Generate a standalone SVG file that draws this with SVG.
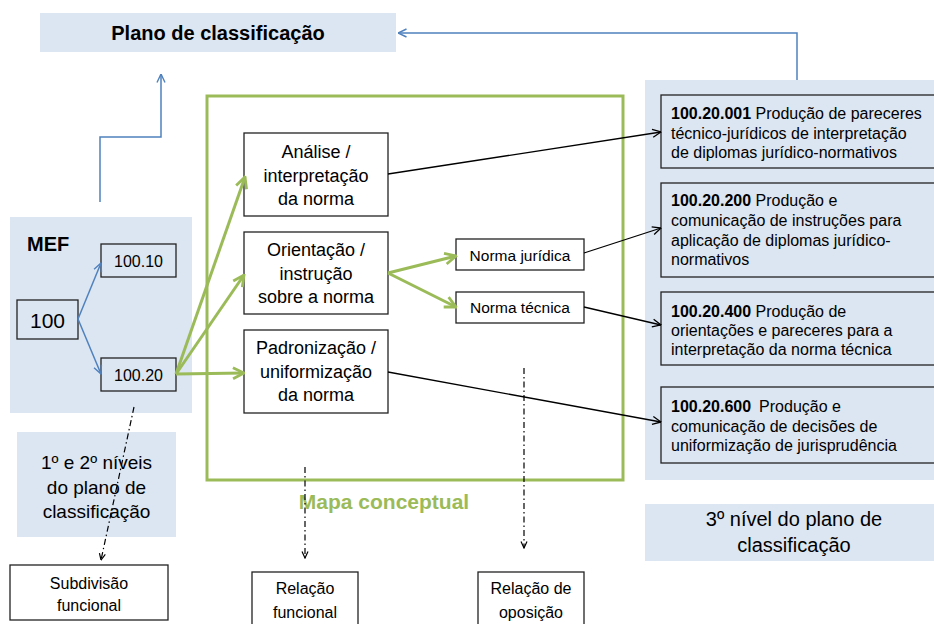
<svg xmlns="http://www.w3.org/2000/svg" width="934" height="624" viewBox="0 0 934 624">
<defs>
<style>
.t{font-family:"Liberation Sans",Arial,sans-serif;fill:#000}
.c{text-anchor:middle}
.b{font-weight:bold}
.pan{fill:#DCE6F2}
.box{fill:#fff;stroke:#222;stroke-width:1.3}
.obox{fill:none;stroke:#222;stroke-width:1.3}
.blue{fill:none;stroke:#4F81BD;stroke-width:1.5}
.green{fill:none;stroke:#9BBB59;stroke-width:3}
.blk{fill:none;stroke:#000;stroke-width:1.3}
.dd{fill:none;stroke:#000;stroke-width:1.2;stroke-dasharray:6 3 1.5 3}
</style>
<marker id="ab" viewBox="0 0 10 10" refX="9.5" refY="5" markerWidth="10" markerHeight="10" markerUnits="userSpaceOnUse" orient="auto"><path d="M1,1 L9.5,5 L1,9" fill="none" stroke="#4F81BD" stroke-width="1.4"/></marker>
<marker id="ag" viewBox="0 0 14 14" refX="12.5" refY="7" markerWidth="14" markerHeight="14" markerUnits="userSpaceOnUse" orient="auto"><path d="M1.5,1.5 L12.5,7 L1.5,12.5" fill="none" stroke="#9BBB59" stroke-width="2.8"/></marker>
<marker id="ak" viewBox="0 0 10 10" refX="9.5" refY="5" markerWidth="10" markerHeight="10" markerUnits="userSpaceOnUse" orient="auto"><path d="M1,1 L9.5,5 L1,9" fill="none" stroke="#000" stroke-width="1.3"/></marker>
<marker id="ad" viewBox="0 0 8 8" refX="7.5" refY="4" markerWidth="8" markerHeight="8" markerUnits="userSpaceOnUse" orient="auto"><path d="M1,1 L7.5,4 L1,7" fill="none" stroke="#000" stroke-width="1.2"/></marker>
</defs>
<rect x="0" y="0" width="934" height="624" fill="#fff"/>

<g id="plano">
<rect class="pan" x="40" y="13" width="356" height="39"/>
<text class="t c b" x="218" y="40" font-size="20">Plano de classificação</text>
</g>

<g id="mef">
<rect class="pan" x="10" y="217" width="182" height="196"/>
<text class="t b" x="27" y="251" font-size="20">MEF</text>
</g>
<g id="n100">
<rect class="obox" x="17" y="300" width="61" height="39"/>
<text class="t c" x="47.5" y="328" font-size="21">100</text>
</g>
<g id="n10010">
<rect class="obox" x="101" y="244" width="75" height="33"/>
<text class="t c" x="138.5" y="267" font-size="16">100.10</text>
</g>
<g id="n10020">
<rect class="obox" x="101" y="358" width="75" height="33"/>
<text class="t c" x="138.5" y="381" font-size="16">100.20</text>
</g>

<g id="niveis12">
<rect class="pan" x="17" y="432" width="159" height="105"/>
<text class="t c" x="96.5" font-size="19"><tspan x="96.5" y="469">1º e 2º níveis</tspan><tspan x="96.5" y="493.5">do plano de</tspan><tspan x="96.5" y="518">classificação</tspan></text>
</g>

<g id="mapa">
<rect class="green" x="207" y="96" width="416" height="384"/>
<text class="b" x="384" y="509" font-size="21" text-anchor="middle" font-family="Liberation Sans, Arial, sans-serif" fill="#9BBB59">Mapa conceptual</text>
</g>

<g id="analise">
<rect class="box" x="244" y="133" width="144" height="83"/>
<text class="t c" font-size="18"><tspan x="316" y="158">Análise /</tspan><tspan x="316" y="181.5">interpretação</tspan><tspan x="316" y="205">da norma</tspan></text>
</g>
<g id="orientacao">
<rect class="box" x="244" y="232" width="144" height="82"/>
<text class="t c" font-size="18"><tspan x="316" y="256">Orientação /</tspan><tspan x="316" y="279.5">instrução</tspan><tspan x="316" y="303">sobre a norma</tspan></text>
</g>
<g id="padronizacao">
<rect class="box" x="244" y="330" width="144" height="83"/>
<text class="t c" font-size="18"><tspan x="316" y="354">Padronização /</tspan><tspan x="316" y="377.5">uniformização</tspan><tspan x="316" y="401">da norma</tspan></text>
</g>
<g id="normajur">
<rect class="box" x="456" y="239" width="128" height="31"/>
<text class="t c" x="520" y="261" font-size="15.5">Norma jurídica</text>
</g>
<g id="normatec">
<rect class="box" x="456" y="292" width="128" height="31"/>
<text class="t c" x="520" y="313" font-size="15.5">Norma técnica</text>
</g>

<g id="nivel3panel">
<rect class="pan" x="645" y="80" width="295" height="400"/>
</g>
<g id="c001">
<rect class="obox" x="661" y="95" width="280" height="73"/>
<text class="t" font-size="16"><tspan x="671" y="119"><tspan class="b">100.20.001</tspan> Produção de pareceres</tspan><tspan x="671" y="138.5">técnico-jurídicos de interpretação</tspan><tspan x="671" y="158">de diplomas jurídico-normativos</tspan></text>
</g>
<g id="c200">
<rect class="obox" x="661" y="183" width="280" height="94"/>
<text class="t" font-size="16"><tspan x="671" y="206"><tspan class="b">100.20.200</tspan> Produção e</tspan><tspan x="671" y="226">comunicação de instruções para</tspan><tspan x="671" y="245.5">aplicação de diplomas jurídico-</tspan><tspan x="671" y="265">normativos</tspan></text>
</g>
<g id="c400">
<rect class="obox" x="661" y="292" width="280" height="73"/>
<text class="t" font-size="16"><tspan x="671" y="317"><tspan class="b">100.20.400</tspan> Produção de</tspan><tspan x="671" y="336">orientações e pareceres para a</tspan><tspan x="671" y="355">interpretação da norma técnica</tspan></text>
</g>
<g id="c600">
<rect class="obox" x="661" y="387" width="280" height="76"/>
<text class="t" font-size="16"><tspan x="671" y="412"><tspan class="b">100.20.600</tspan><tspan dx="8">Produção e</tspan></tspan><tspan x="671" y="432">comunicação de decisões de</tspan><tspan x="671" y="451">uniformização de jurisprudência</tspan></text>
</g>

<g id="nivel3">
<rect class="pan" x="645" y="504" width="295" height="57"/>
<text class="t c" font-size="20"><tspan x="794" y="526">3º nível do plano de</tspan><tspan x="794" y="552">classificação</tspan></text>
</g>

<g id="subdivisao">
<rect class="box" x="10" y="565" width="158" height="55"/>
<text class="t c" font-size="16"><tspan x="89" y="589">Subdivisão</tspan><tspan x="89" y="611">funcional</tspan></text>
</g>
<g id="relfuncional">
<rect class="box" x="252" y="572" width="106" height="60"/>
<text class="t c" font-size="16"><tspan x="305" y="594">Relação</tspan><tspan x="305" y="618">funcional</tspan></text>
</g>
<g id="reloposicao">
<rect class="box" x="478" y="572" width="106" height="60"/>
<text class="t c" font-size="16"><tspan x="531" y="594">Relação de</tspan><tspan x="531" y="618">oposição</tspan></text>
</g>

<g id="connectors">
<path class="blue" d="M797,80 V33 H398" marker-end="url(#ab)"/>
<path class="blue" d="M100,202 V137 H161 V74" marker-end="url(#ab)"/>
<path class="blue" d="M78,319 L101,263" marker-end="url(#ab)"/>
<path class="blue" d="M78,319 L101,374" marker-end="url(#ab)"/>
<path class="green" d="M176,374 L245,177" marker-end="url(#ag)"/>
<path class="green" d="M176,374 L244,275" marker-end="url(#ag)"/>
<path class="green" d="M176,374 L244,373" marker-end="url(#ag)"/>
<path class="green" d="M388,273 L456,256" marker-end="url(#ag)"/>
<path class="green" d="M388,273 L456,307" marker-end="url(#ag)"/>
<path class="blk" d="M388,174 L661,132" marker-end="url(#ak)"/>
<path class="blk" d="M584,253 L661,228" marker-end="url(#ak)"/>
<path class="blk" d="M584,307 L661,325" marker-end="url(#ak)"/>
<path class="blk" d="M388,372 L661,422" marker-end="url(#ak)"/>
<path class="dd" d="M134,407 L101,560" marker-end="url(#ad)"/>
<path class="dd" d="M305,467 L305,558" marker-end="url(#ad)"/>
<path class="dd" d="M524,368 L524,548" marker-end="url(#ad)"/>
</g>
</svg>
